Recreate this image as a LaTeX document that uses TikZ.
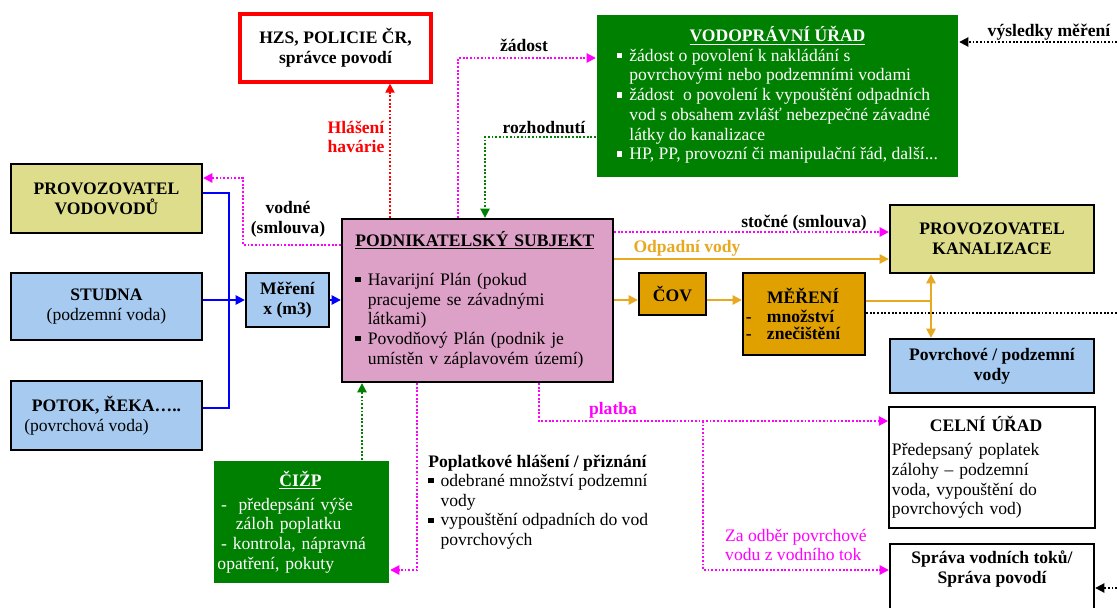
\documentclass[tikz,border=0pt]{standalone}
\usepackage{fontspec}
\setmainfont{Liberation Serif}
\usetikzlibrary{arrows.meta}
\definecolor{vgreen}{RGB}{0,128,0}
\definecolor{vpink}{RGB}{221,160,198}
\definecolor{vyell}{RGB}{221,221,140}
\definecolor{vblue}{RGB}{166,202,240}
\definecolor{vorange}{RGB}{224,160,0}
\definecolor{vorline}{RGB}{232,168,32}
\definecolor{vmag}{RGB}{255,0,255}
\newcommand{\blt}{\raisebox{0.18em}{\rule{0.3em}{0.3em}}}
\newcommand{\blist}[1]{\begin{tabular}{@{}l@{\hspace{0.4em}}l@{}}#1\end{tabular}}

\begin{document}
\begin{tikzpicture}[x=0.025cm,y=-0.025cm,font=\fontsize{12.5}{14}\selectfont,
  box/.style={draw,line width=1.6pt,align=center,inner sep=2pt},
  bf/.style={execute at begin node=\bfseries},
  dotline/.style={line width=1.3pt,dash pattern=on 1.3pt off 1.3pt},
  flow/.style={line width=1.4pt},
  arr/.style={-{Triangle[length=6.5pt,width=6.5pt]}}]
\useasboundingbox (0,0) rectangle (1117,607);
\node[box,bf,draw=red,line width=2.2pt] (hzs) [minimum width=4.775cm,minimum height=1.7cm] at (335.5,48) {HZS, POLICIE ČR,\\správce povodí};
\node[box,fill=vgreen,draw=none,text=white] (vu) [minimum width=9.025cm,minimum height=4.05cm] at (777.5,96)
  {\underline{\textbf{VODOPRÁVNÍ ÚŘAD}}\\[1pt]
   \blist{\blt & žádost o povolení k nakládání s\\ & povrchovými nebo podzemními vodami\\
   \blt & žádost\ \ o povolení k vypouštění odpadních\\ & vod s obsahem zvlášť nebezpečné závadné\\ & látky do kanalizace\\
   \blt & HP, PP, provozní či manipulační řád, další...}};
\node[box,bf,fill=vyell] (pv) [minimum width=4.775cm,minimum height=1.725cm] at (106.5,198.5) {PROVOZOVATEL\\VODOVODŮ};
\node[box,fill=vblue] (studna) [minimum width=4.775cm,minimum height=1.675cm] at (106.5,306.5) {\textbf{STUDNA}\\(podzemní voda)};
\node[box,fill=vblue] (potok) [minimum width=4.775cm,minimum height=1.725cm] at (106.5,415.5) {\textbf{POTOK, ŘEKA…..}\\(povrchová voda)\hspace{1cm}\mbox{}};
\node[box,bf,fill=vblue] (mereni1) [minimum width=2.075cm,minimum height=1.35cm] at (287.5,300) {Měření\\x (m3)};
\node[box,fill=vpink,align=left,text width=6.1cm] (ps) [minimum width=6.775cm,minimum height=4.075cm] at (477.5,300.5)
  {\underline{\textbf{PODNIKATELSKÝ SUBJEKT}}\\[15pt]
   \blist{\blt & Havarijní Plán (pokud\\ & pracujeme se závadnými\\ & látkami)\\
   \blt & Povodňový Plán (podnik je\\ & umístěn v záplavovém území)}};
\node[box,bf,fill=vorange] (cov) [minimum width=1.675cm,minimum height=1.05cm] at (672.5,294) {ČOV};
\node[box,bf,fill=vorange,align=left,text width=2.9cm] (mereni2) [minimum width=3.05cm,minimum height=2.05cm] at (804,314)
  {\hspace*{0.525cm}MĚŘENÍ\\[-1pt] \makebox[0.525cm][l]{-}množství\\[-2pt] \makebox[0.525cm][l]{-}znečištění};
\node[box,bf,fill=vyell] (pk) [minimum width=5.1cm,minimum height=1.7cm] at (992,239) {PROVOZOVATEL\\KANALIZACE};
\node[box,bf,fill=vblue] (pod) [minimum width=5.1cm,minimum height=1.35cm] at (992,366) {Povrchové / podzemní\\vody};
\node[box,fill=white,align=left,text width=5cm] (celni) [minimum width=5.1cm,minimum height=3.025cm] at (992,467.5)
  {\hspace*{0.95cm}\textbf{CELNÍ ÚŘAD}\\[3pt] Předepsaný poplatek\\ zálohy – podzemní\\ voda, vypouštění do\\ povrchových vod)};
\node[box,bf,fill=white,anchor=north,inner ysep=5pt] (sprava) [minimum width=5.1cm] at (992,543) {Správa vodních toků/\\Správa povodí\\[1cm]\mbox{}};
\node[box,fill=vgreen,draw=none,text=white,align=left,text width=4.2cm] (cizp) [minimum width=4.375cm,minimum height=3.05cm] at (301.5,522)
  {\hspace*{1.55cm}\underline{\textbf{ČIŽP}}\\[3pt] \hspace*{0.09cm}-\ \ předepsání výše\\ \hspace*{0.46cm}záloh poplatku\\ \hspace*{0.09cm}- kontrola, nápravná\\ opatření, pokuty};
\node[anchor=north west,align=left,inner sep=0pt] (pop) at (428,455)
  {\textbf{Poplatkové hlášení / přiznání}\\
   \blist{\blt & odebrané množství podzemní\\ & vody\\ \blt & vypouštění odpadních do vod\\ & povrchových}};
\node[bf] (zad) at (524,45) {žádost};
\node[bf,text=red,align=right] (hav) at (356,137) {Hlášení\\havárie};
\node[bf] (roz) at (544,127) {rozhodnutí};
\node[bf] (vys) at (1049,32) {výsledky měření};
\node[bf,align=center] (vod) at (288,219) {vodné\\(smlouva)};
\node[bf] (sto) at (804,223) {stočné (smlouva)};
\node[bf,text=vorline] (odp) at (687,248) {Odpadní vody};
\node[bf,text=vmag] (pla) at (613,410) {platba};
\node[text=vmag,align=left] (zao) at (796,545) {Za odběr povrchové\\vodu z vodního tok};
\coordinate (vm) at (1117,42);
\coordinate (ed) at (1117,313);
\coordinate (vs) at (1117,588);
\coordinate (pb) at (703,421);
\draw[dotline,red,arr] (ps.north -| 390,0) -- (hzs.south -| 390,0);
\draw[dotline,vmag,arr] (ps.north -| 458,0) |- (vu.west |- 0,58);
\draw[dotline,vgreen,arr] (vu.west |- 0,137) -| (ps.north -| 485,0);
\draw[dotline,arr] (vm) -- (vu.east |- vm);
\draw[dotline,vmag,arr] (ps.west |- 0,245) -| (243,178) -- (pv.east |- 0,178);
\draw[flow,blue] (pv.east |- 0,193) -| (229,408) -- (potok.east |- 0,408);
\path[flow,blue,arr] (studna.east |- mereni1) edge (mereni1) (mereni1) edge (ps.west |- mereni1);
\path[dotline,vmag,arr] (ps.east |- 0,232) edge (pk.west |- 0,232);
\path[flow,vorline,arr] (ps.east |- 0,259) edge (pk.west |- 0,259)
  (ps.east |- 0,300) edge (cov.west |- 0,300) (cov.east |- 0,300) edge (mereni2.west |- 0,300);
\draw[flow,vorline] (mereni2.east |- 0,301) -- (931,301);
\draw[flow,vorline,{Triangle[length=6.5pt,width=6.5pt]}-{Triangle[length=6.5pt,width=6.5pt]}] (pk.south -| 931,0) -- (pod.north -| 931,0);
\draw[dotline] (mereni2.east |- ed) -- (ed);
\draw[dotline,vmag,arr] (ps.south -| 539,0) |- (celni.west |- pb);
\draw[dotline,vmag,arr] (pb) |- (sprava.west |- 0,570);
\draw[dotline,vgreen,arr] (cizp.north -| 362,0) -- (ps.south -| 362,0);
\draw[dotline,vmag,arr] (ps.south -| 417,0) |- (cizp.east |- 0,570);
\draw[dotline,arr] (vs) -- (sprava.east |- vs);
\end{tikzpicture}
\end{document}
